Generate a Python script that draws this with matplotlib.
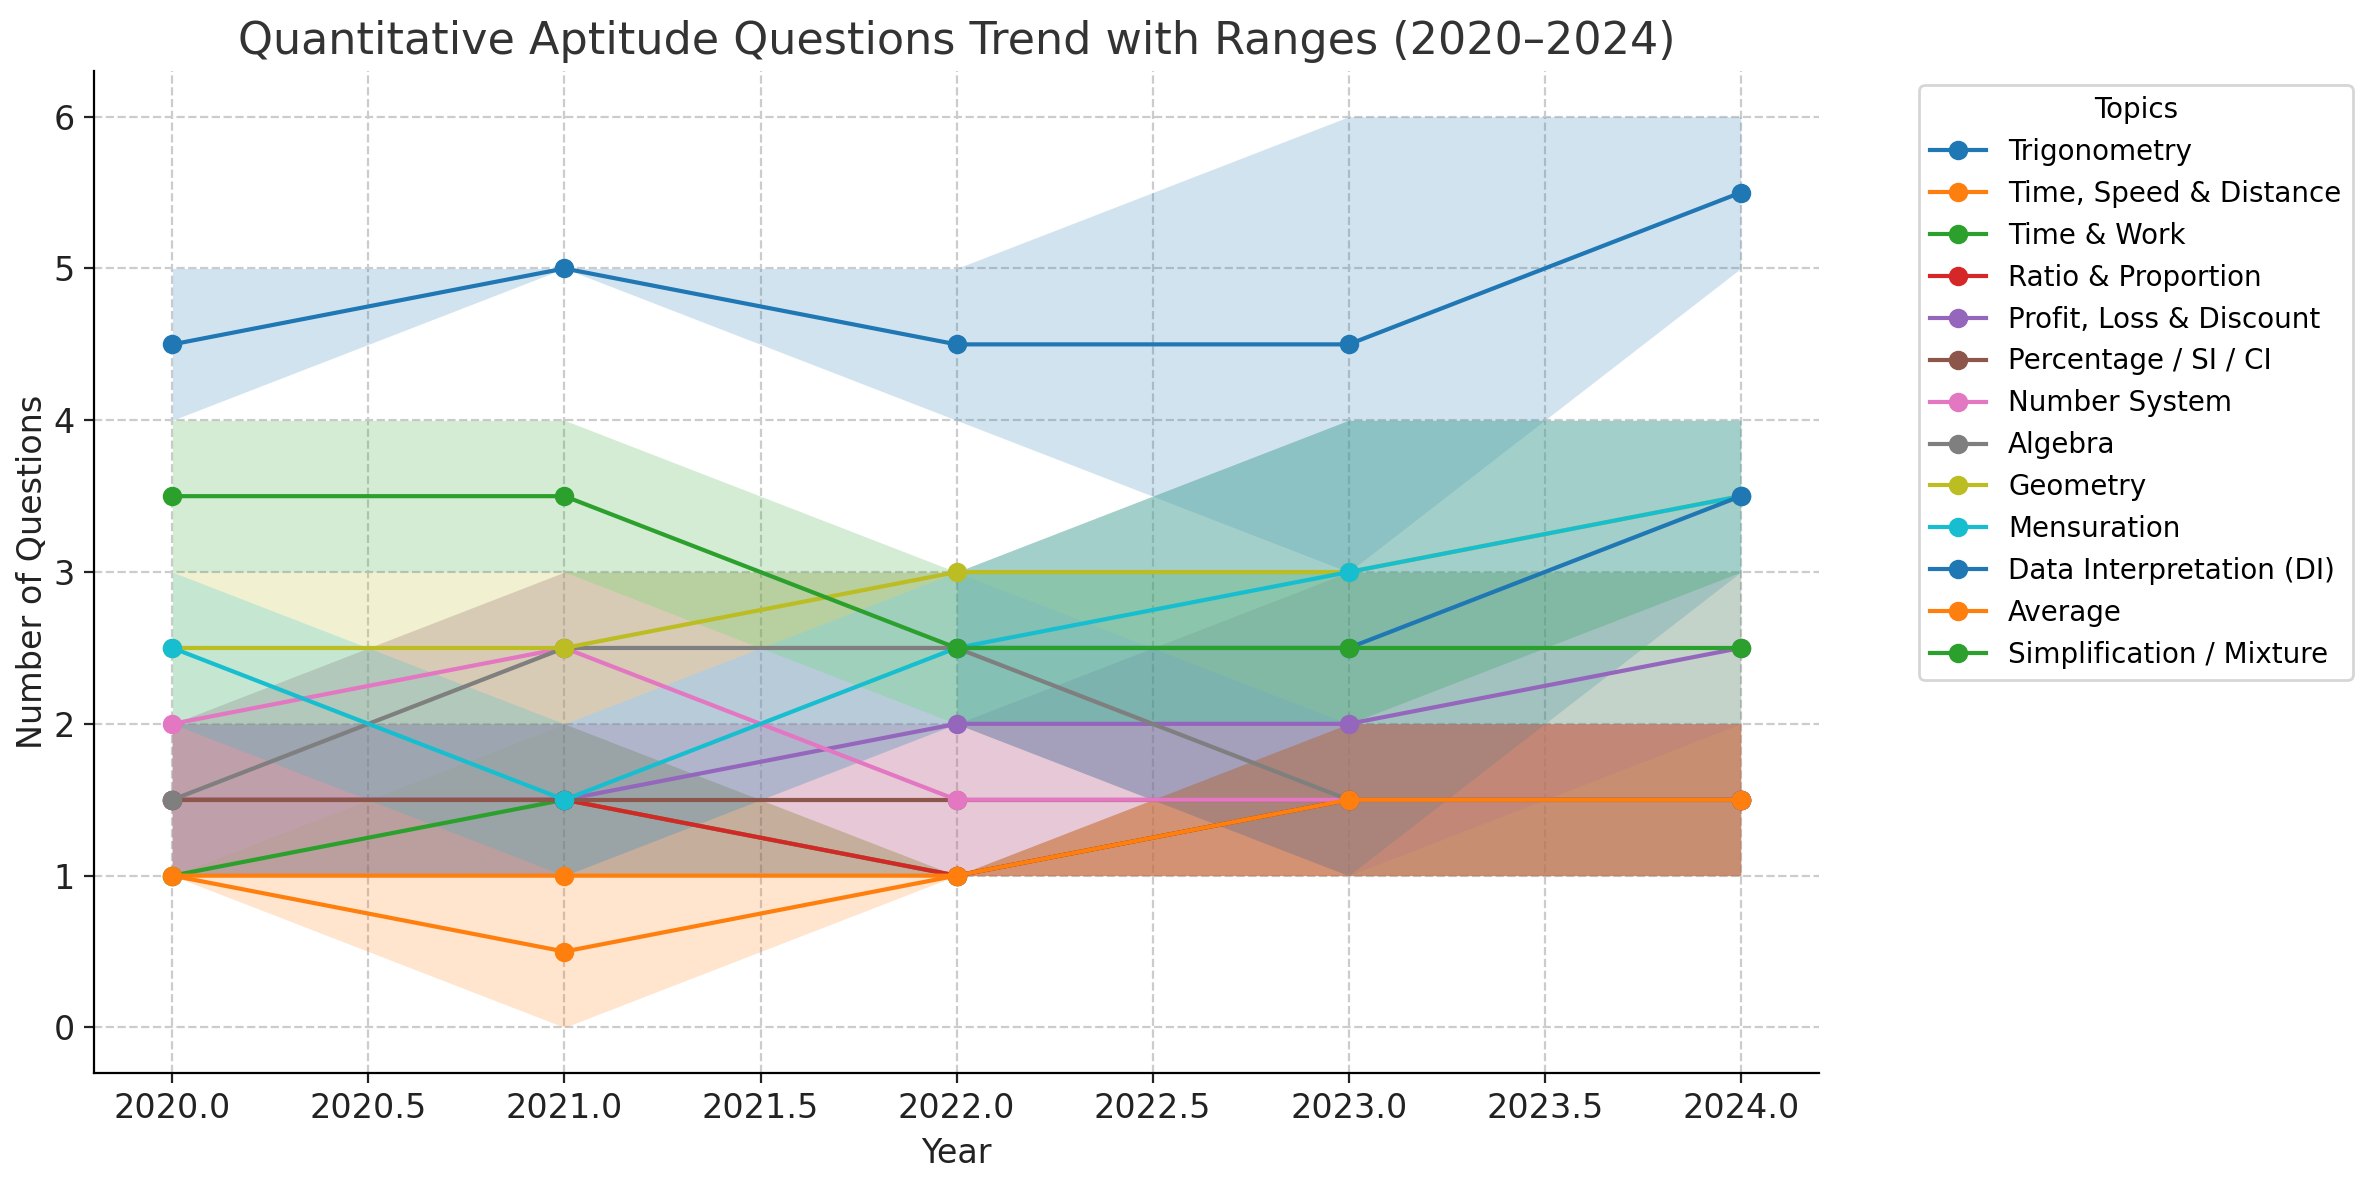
import numpy as np
import matplotlib
matplotlib.use("Agg")
import matplotlib.pyplot as plt

years = [2020, 2021, 2022, 2023, 2024]

topics = [
    "Trigonometry",
    "Time, Speed & Distance",
    "Time & Work",
    "Ratio & Proportion",
    "Profit, Loss & Discount",
    "Percentage / SI / CI",
    "Number System",
    "Algebra",
    "Geometry",
    "Mensuration",
    "Data Interpretation (DI)",
    "Average",
    "Simplification / Mixture",
]

nan = np.nan

# average number of questions per year
trig_avg = [4.5, 5.0, 4.5, 4.5, 5.5]
tsd_avg = [1.0, 0.5, 1.0, 1.5, 1.5]
tw_avg = [1.0, 1.5, 1.0, 1.5, 1.5]
rp_avg = [1.5, 1.5, 1.0, 1.5, 1.5]
pld_avg = [1.5, 1.5, 2.0, 2.0, 2.5]
pct_avg = [1.5, 1.5, 1.5, 1.5, 1.5]
ns_avg = [2.0, 2.5, 1.5, 1.5, 1.5]
alg_avg = [1.5, 2.5, 2.5, 1.5, 1.5]
geo_avg = [2.5, 2.5, 3.0, 3.0, 3.5]
mens_avg = [2.5, 1.5, 2.5, 3.0, 3.5]
di_avg = [nan, nan, 2.5, 2.5, 3.5]
avg_avg = [1.0, 1.0, 1.0, 1.5, 1.5]
simp_avg = [3.5, 3.5, 2.5, 2.5, 2.5]

# minimum of range
trig_min = [4, 5, 4, 3, 5]
tsd_min = [1, 0, 1, 1, 1]
tw_min = [1, 1, 1, 1, 1]
rp_min = [1, 1, 1, 1, 1]
pld_min = [1, 1, 2, 1, 2]
pct_min = [1, 1, 1, 1, 1]
ns_min = [2, 2, 1, 1, 1]
alg_min = [1, 2, 2, 1, 1]
geo_min = [2, 2, 3, 2, 3]
mens_min = [2, 1, 2, 2, 3]
di_min = [nan, nan, 2, 1, 3]
avg_min = [1, 1, 1, 1, 1]
simp_min = [3, 3, 2, 2, 2]

# maximum of range
trig_max = [5, 5, 5, 6, 6]
tsd_max = [1, 1, 1, 2, 2]
tw_max = [1, 2, 1, 2, 2]
rp_max = [2, 2, 1, 2, 2]
pld_max = [2, 2, 2, 3, 3]
pct_max = [2, 2, 2, 2, 2]
ns_max = [2, 3, 2, 2, 2]
alg_max = [2, 3, 3, 2, 2]
geo_max = [3, 3, 3, 4, 4]
mens_max = [3, 2, 3, 4, 4]
di_max = [nan, nan, 3, 4, 4]
avg_max = [1, 1, 1, 2, 2]
simp_max = [4, 4, 3, 3, 3]

avgs = [trig_avg, tsd_avg, tw_avg, rp_avg, pld_avg, pct_avg, ns_avg,
        alg_avg, geo_avg, mens_avg, di_avg, avg_avg, simp_avg]
mins = [trig_min, tsd_min, tw_min, rp_min, pld_min, pct_min, ns_min,
        alg_min, geo_min, mens_min, di_min, avg_min, simp_min]
maxs = [trig_max, tsd_max, tw_max, rp_max, pld_max, pct_max, ns_max,
        alg_max, geo_max, mens_max, di_max, avg_max, simp_max]

plt.rcParams["font.family"] = ["DejaVu Sans"]

fig = plt.figure(figsize=(2373 / 200, 1180 / 200), dpi=200)
ax = fig.add_axes([0.0396, 0.0907, 0.727, 0.849])

colors = plt.rcParams["axes.prop_cycle"].by_key()["color"]
for i, (name, a, lo, hi) in enumerate(zip(topics, avgs, mins, maxs)):
    c = colors[i % len(colors)]
    ax.plot(years, a, marker="o", color=c, label=name, linewidth=1.5, markersize=6)
    ax.fill_between(years, lo, hi, color=c, alpha=0.2, linewidth=0)

ax.set_title("Quantitative Aptitude Questions Trend with Ranges (2020\u20132024)",
             fontsize=16, color="#333333")
ax.set_xlabel("Year", fontsize=12, color="#222222")
ax.set_ylabel("Number of Questions", fontsize=12, color="#222222", labelpad=1.5)
ax.tick_params(labelsize=12, colors="#222222")
ax.grid(True, linestyle="--", color="#cccccc", linewidth=0.8)
ax.set_axisbelow(True)
ax.spines["top"].set_visible(False)
ax.spines["right"].set_visible(False)

ax.legend(title="Topics", bbox_to_anchor=(1.05, 1), loc="upper left", fontsize=10,
          title_fontsize=10)

fig.savefig("out.png", dpi=200)
